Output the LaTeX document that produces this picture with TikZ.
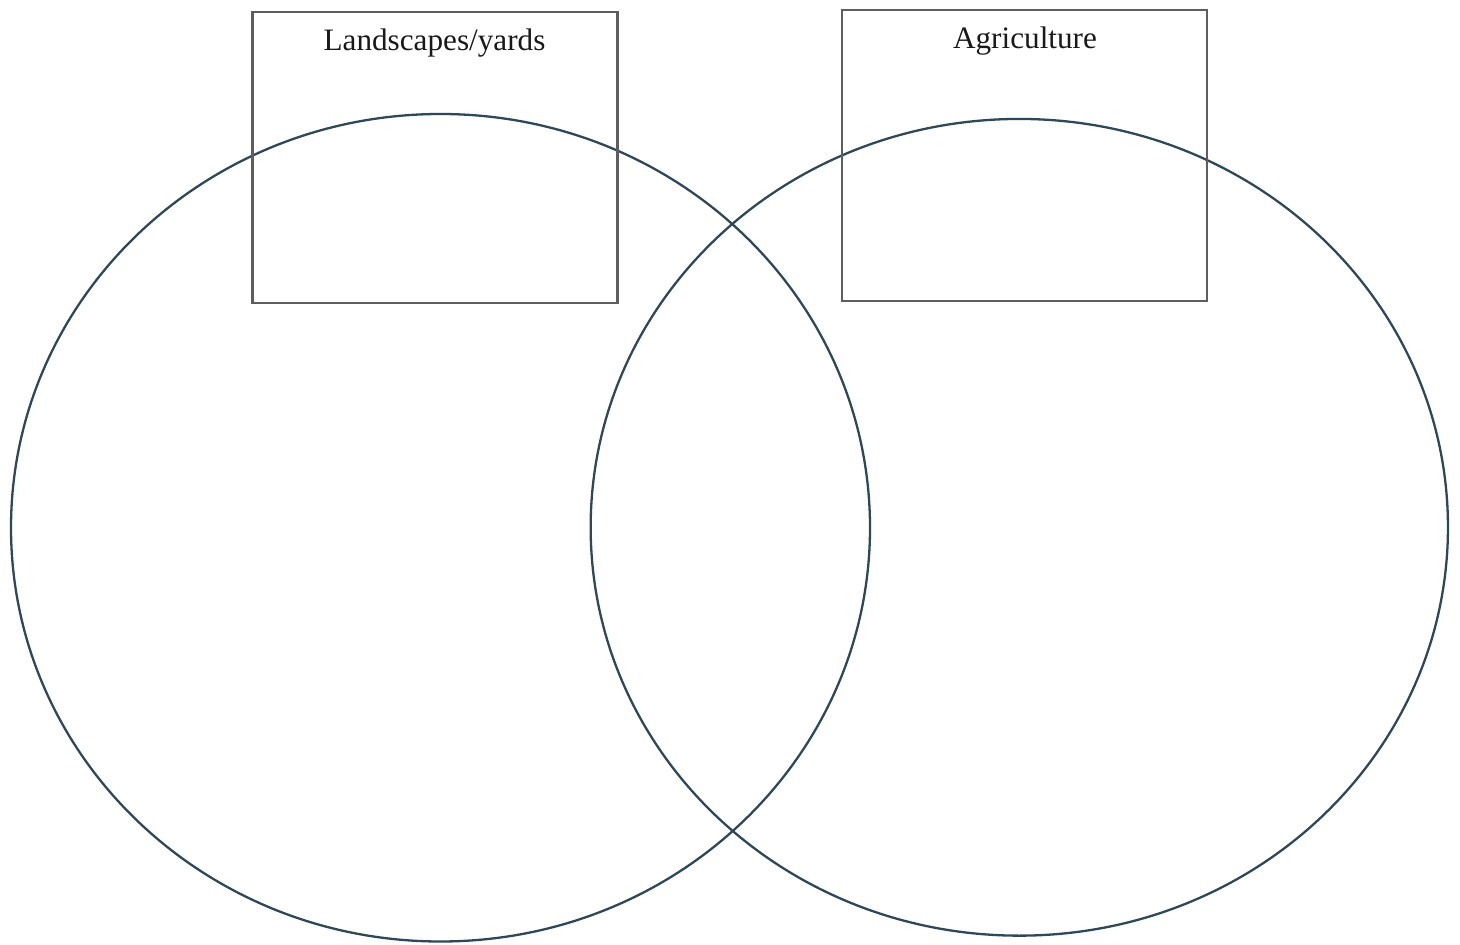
\documentclass[tikz,border=0pt]{standalone}
\usepackage{fontspec}
\setmainfont{Liberation Serif}
\usetikzlibrary{shapes.geometric}
\definecolor{venn}{HTML}{2F4858}
\definecolor{boxgray}{HTML}{5E5E5E}
\tikzset{
  vennset/.style={draw=venn, line width=1.15pt, ellipse, inner sep=0pt, outer sep=0pt},
  catbox/.style={draw=boxgray, line width=1.25pt, rectangle, inner sep=0pt, outer sep=0pt},
  cattext/.style={anchor=base, inner sep=0pt, font=\fontsize{15.6pt}{18pt}\selectfont, text=black!90}
}
\begin{document}
\begin{tikzpicture}[x=0.5pt,y=-0.5pt]
\useasboundingbox (0,0) rectangle (1460,945);
\node[vennset, minimum width=429.5pt, minimum height=413.75pt] (left) at (440.5,527.75) {};
\node[vennset, minimum width=428.65pt, minimum height=408.35pt] (right) at (1019.3,527.3) {};
\node[catbox, minimum width=182.5pt, minimum height=145.5pt] (lbox) at (435.2,157.5) {};
\node[catbox, minimum width=182.5pt, minimum height=145.5pt] (rbox) at (1024.5,155.5) {};
\node[cattext] (ltext) at (434.5,50.5) {Landscapes/yards};
\node[cattext] (rtext) at (1025,48.5) {Agriculture};
\end{tikzpicture}
\end{document}
